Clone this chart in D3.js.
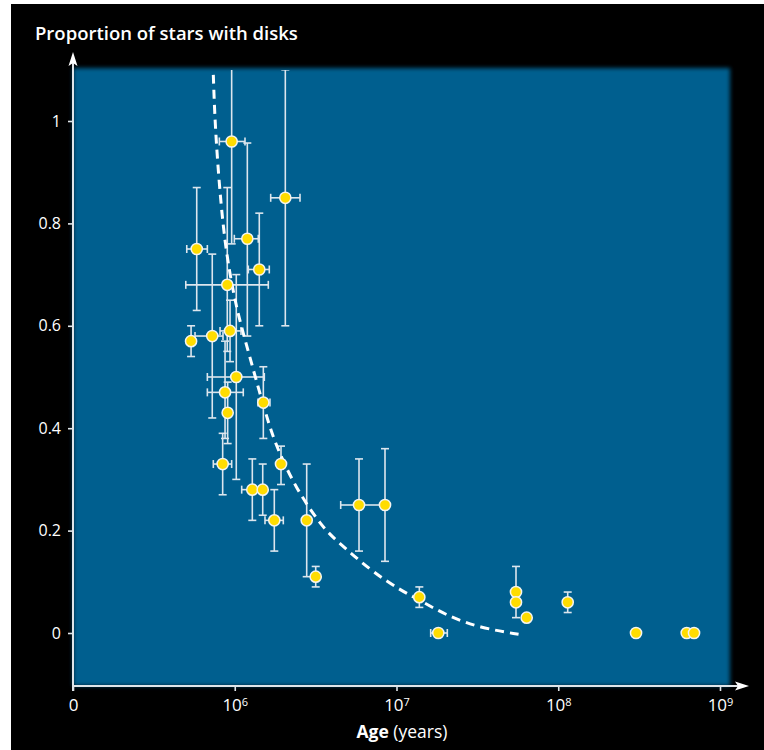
<!DOCTYPE html>
<html>
<head>
<meta charset="utf-8">
<script src="https://cdn.jsdelivr.net/npm/d3@7"></script>
<style>
  html, body { margin: 0; padding: 0; background: #ffffff; }
  svg { display: block; }
  text { font-family: "Open Sans", "Noto Sans", sans-serif; fill: #ffffff; }
</style>
</head>
<body>
<svg id="chart" width="764" height="750"></svg>
<script>
// ---- data (ages in millions of years) ----
const ageMyr  = [0.957, 2.054, 1.196, 1.418, 0.582, 0.899, 0.537, 0.935, 1.022, 0.871, 0.904, 0.726, 0.842, 1.284, 1.489, 1.756, 1.502, 1.932, 2.785, 3.166, 5.865, 8.49, 13.84, 18.13, 54.8, 54.8, 63.8, 114.4, 302.6, 622.6, 690.9];
const ageLo   = [0.803, 1.668, 0.994, 1.213, 0.505, 0.498, null, 0.811, 0.677, 0.677, null, 0.568, 0.737, 1.104, null, 1.538, 1.392, null, null, null, 4.519, null, null, 16.27, null, null, null, null, null, null, null];
const ageHi   = [1.157, 2.532, 1.398, 1.635, 0.677, 1.612, null, 1.093, 1.523, 1.129, null, 0.846, 0.957, 1.489, null, 1.996, 1.651, null, null, null, 8.49, null, null, 20.61, null, null, null, null, null, null, null];
const propVal = [0.96, 0.85, 0.77, 0.71, 0.75, 0.68, 0.57, 0.59, 0.50, 0.47, 0.43, 0.58, 0.33, 0.28, 0.28, 0.22, 0.45, 0.33, 0.22, 0.11, 0.25, 0.25, 0.07, 0.00, 0.08, 0.06, 0.03, 0.06, 0.00, 0.00, 0.00];
const propLo  = [0.76, 0.60, 0.58, 0.60, 0.63, 0.55, 0.54, 0.53, 0.30, 0.38, 0.37, 0.42, 0.27, 0.22, 0.23, 0.16, 0.38, 0.29, 0.11, 0.09, 0.16, 0.14, 0.05, null, null, 0.03, null, 0.04, null, null, null];
const propHi  = [1.20, 1.10, 0.957, 0.82, 0.87, 0.87, 0.60, 0.65, 0.70, 0.57, 0.49, 0.74, 0.39, 0.34, 0.33, 0.28, 0.52, 0.365, 0.33, 0.13, 0.34, 0.36, 0.09, null, 0.13, null, null, 0.08, null, null, null];

// dashed trend curve
const curveAge  = [0.737, 0.750, 0.775, 0.820, 0.880, 0.960, 1.052, 1.213, 1.367, 1.55, 1.774, 2.358, 3.45, 4.27, 6.86, 10.5, 13.97, 20.4, 32.8, 58.0];
const curveProp = [1.09, 1.02, 0.94, 0.84, 0.75, 0.68, 0.62, 0.55, 0.49, 0.43, 0.37, 0.285, 0.208, 0.180, 0.123, 0.084, 0.064, 0.034, 0.010, -0.003];

const xTicks = [0.1, 1, 10, 100, 1000];
const xTickExp = ["0", "6", "7", "8", "9"];
const yTicks = [0, 0.2, 0.4, 0.6, 0.8, 1];
const yTickLabels = ["0", "0.2", "0.4", "0.6", "0.8", "1"];

// ---- layout ----
const svg = d3.select("#chart");
const x = d3.scaleLog().domain([0.1, 1000]).range([73, 720]);
const y = d3.scaleLinear().domain([0, 1]).range([633, 121]);
const plotTop = 68, plotBottom = 686, plotLeft = 73, plotRight = 730;
const axisCol = "#dfe5e9";

const defs = svg.append("defs");
defs.append("filter").attr("id", "glow").attr("x", "-5%").attr("y", "-5%").attr("width", "110%").attr("height", "110%")
  .append("feGaussianBlur").attr("stdDeviation", 2.2);
defs.append("clipPath").attr("id", "plotclip").append("rect")
  .attr("x", plotLeft).attr("y", plotTop + 2).attr("width", plotRight - plotLeft).attr("height", plotBottom - plotTop);

// black background
svg.append("rect").attr("x", 11).attr("y", 4).attr("width", 753).attr("height", 746).attr("fill", "#000");

// blue plot panel
svg.append("rect").attr("x", plotLeft).attr("y", plotTop)
  .attr("width", plotRight - plotLeft).attr("height", plotBottom - plotTop)
  .attr("fill", "#005e8f").attr("filter", "url(#glow)");

// data
const data = ageMyr.map((a, i) => ({
  a, al: ageLo[i], ah: ageHi[i], p: propVal[i], pl: propLo[i], ph: propHi[i]
}));

const eb = svg.append("g").attr("clip-path", "url(#plotclip)")
  .attr("stroke", "#dce6ee").attr("stroke-width", 1.6).attr("fill", "none");
const cap = 4;
data.forEach(d => {
  const cx = x(d.a), cy = y(d.p);
  if (d.pl !== null) {
    eb.append("line").attr("x1", cx).attr("x2", cx).attr("y1", cy).attr("y2", y(d.pl));
    eb.append("line").attr("x1", cx - cap).attr("x2", cx + cap).attr("y1", y(d.pl)).attr("y2", y(d.pl));
  }
  if (d.ph !== null) {
    eb.append("line").attr("x1", cx).attr("x2", cx).attr("y1", cy).attr("y2", y(d.ph));
    eb.append("line").attr("x1", cx - cap).attr("x2", cx + cap).attr("y1", y(d.ph)).attr("y2", y(d.ph));
  }
  if (d.al !== null) {
    eb.append("line").attr("x1", cx).attr("x2", x(d.al)).attr("y1", cy).attr("y2", cy);
    eb.append("line").attr("x1", x(d.al)).attr("x2", x(d.al)).attr("y1", cy - cap).attr("y2", cy + cap);
  }
  if (d.ah !== null) {
    eb.append("line").attr("x1", cx).attr("x2", x(d.ah)).attr("y1", cy).attr("y2", cy);
    eb.append("line").attr("x1", x(d.ah)).attr("x2", x(d.ah)).attr("y1", cy - cap).attr("y2", cy + cap);
  }
});

// dashed curve
const curvePts = curveAge.map((a, i) => [a, curveProp[i]]);
svg.append("path")
  .attr("d", d3.line().x(d => x(d[0])).y(d => y(d[1])).curve(d3.curveBasis)(curvePts))
  .attr("fill", "none").attr("stroke", "#ffffff").attr("stroke-width", 3)
  .attr("stroke-dasharray", "9,6");

// points
svg.append("g").selectAll("circle").data(data).join("circle")
  .attr("cx", d => x(d.a)).attr("cy", d => y(d.p)).attr("r", 5.6)
  .attr("fill", "#ffdc00").attr("stroke", "#f4f4f0").attr("stroke-width", 1.5);

// axes
const xAxis = svg.append("g").attr("transform", `translate(0,${plotBottom})`)
  .call(d3.axisBottom(x).tickValues(xTicks).tickSize(5).tickPadding(6).tickFormat(""));
xAxis.select(".domain").remove();
xAxis.selectAll(".tick line").attr("stroke", axisCol).attr("stroke-width", 1.6);
xAxis.selectAll(".tick text").each(function(d, i) {
  const t = d3.select(this).attr("font-size", 17).attr("fill", "#fff").attr("dy", "0.85em")
    .style("font-family", '"Open Sans", sans-serif');
  if (i === 0) { t.text(xTickExp[0]); }
  else {
    t.append("tspan").text("10");
    t.append("tspan").attr("dy", "-0.5em").attr("font-size", 11).text(xTickExp[i]);
  }
});

const yAxis = svg.append("g").attr("transform", `translate(${plotLeft},0)`)
  .call(d3.axisLeft(y).tickValues(yTicks).tickSize(5).tickPadding(7).tickFormat((d, i) => yTickLabels[i]));
yAxis.select(".domain").remove();
yAxis.selectAll(".tick line").attr("stroke", axisCol).attr("stroke-width", 1.6);
yAxis.selectAll(".tick text").attr("font-size", 16).attr("fill", "#fff")
  .style("font-family", '"Open Sans", sans-serif');

// axis lines with arrows
svg.append("line").attr("x1", plotLeft).attr("x2", plotLeft).attr("y1", plotBottom + 5).attr("y2", 60)
  .attr("stroke", axisCol).attr("stroke-width", 2);
svg.append("path").attr("d", `M${plotLeft},52 L${plotLeft + 4.5},66 L${plotLeft},63 L${plotLeft - 4.5},66 Z`).attr("fill", "#fff");
svg.append("line").attr("x1", plotLeft).attr("x2", 740).attr("y1", plotBottom).attr("y2", plotBottom)
  .attr("stroke", axisCol).attr("stroke-width", 2);
svg.append("path").attr("d", `M749,${plotBottom} L735,${plotBottom - 4.5} L738,${plotBottom} L735,${plotBottom + 4.5} Z`).attr("fill", "#fff");

// titles
svg.append("text").attr("x", 35).attr("y", 40).attr("font-size", 18.5).attr("font-weight", 600)
  .text("Proportion of stars with disks");
const xl = svg.append("text").attr("x", 402).attr("y", 738).attr("text-anchor", "middle").attr("font-size", 17.5);
xl.append("tspan").attr("font-weight", 700).text("Age");
xl.append("tspan").text(" (years)");
</script>
</body>
</html>
